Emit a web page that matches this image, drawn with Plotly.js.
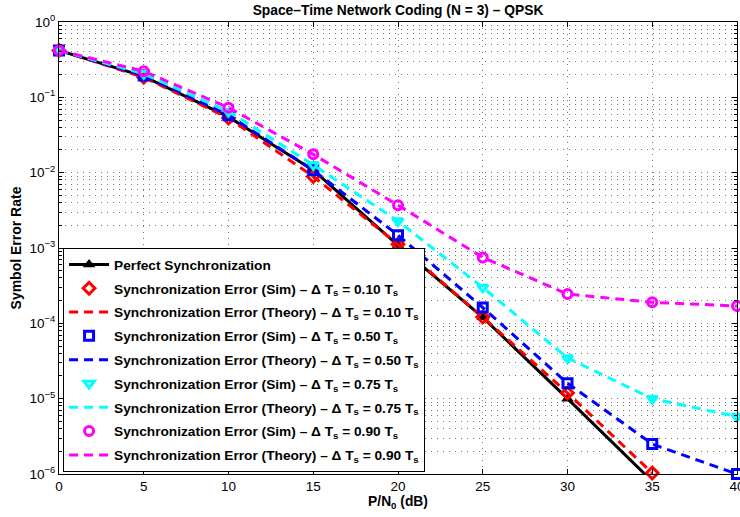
<!DOCTYPE html>
<html>
<head>
<meta charset="utf-8">
<script src="https://cdn.plot.ly/plotly-3.0.1.min.js"></script>
<style>html,body{margin:0;padding:0;background:#fff;}#chart{width:740px;height:517px;}</style>
</head>
<body>
<div id="chart"></div>
<script>
// ---- data ----
const snr = [0, 5, 10, 15, 20, 25, 30, 35, 40];
const perfectSER = [0.42, 0.19, 0.055, 0.0108, 0.00108, 1.2e-4, 1.0e-5, 8.0e-7];
const ser010 = [0.42, 0.185, 0.053, 0.0089, 0.00112, 1.21e-4, 1.19e-5, 1.03e-6];
const ser050 = [0.42, 0.195, 0.058, 0.0108, 0.00148, 1.62e-4, 1.6e-5, 2.5e-6, 1.0e-6];
const ser075 = [0.42, 0.205, 0.065, 0.0127, 0.00228, 3.0e-4, 3.47e-5, 1.0e-5, 5.8e-6];
const ser090 = [0.42, 0.222, 0.073, 0.0175, 0.0037, 7.5e-4, 2.45e-4, 1.9e-4, 1.7e-4];
const deltaLabels = ['0.10', '0.50', '0.75', '0.90'];
const seriesColors = ['#ff0000', '#0000ff', '#00ffff', '#ff00ff'];
const simSymbols = ['diamond-open', 'square-open', 'triangle-down-open', 'circle-open'];
const yTickVals = [1e-6, 1e-5, 1e-4, 1e-3, 1e-2, 1e-1, 1];
const yTickText = ['10<sup>−6</sup>', '10<sup>−5</sup>', '10<sup>−4</sup>', '10<sup>−3</sup>', '10<sup>−2</sup>', '10<sup>−1</sup>', '10<sup>0</sup>'];
const xTickVals = [0, 5, 10, 15, 20, 25, 30, 35, 40];

const seriesValues = [ser010, ser050, ser075, ser090];

const traces = [];
traces.push({
  x: snr.slice(0, perfectSER.length), y: perfectSER,
  mode: 'lines+markers', name: 'Perfect Synchronization', legendgroup: 'g0',
  line: {color: '#000', width: 3},
  marker: {symbol: 'triangle-up', size: 11, color: '#000'},
  cliponaxis: true
});
for (let i = 0; i < seriesValues.length; i++) {
  const v = seriesValues[i];
  const xs = snr.slice(0, v.length);
  traces.push({
    x: xs, y: v, mode: 'markers', legendgroup: 's' + i,
    name: 'Synchronization Error (Sim) – Δ T<sub>s</sub> = ' + deltaLabels[i] + ' T<sub>s</sub>',
    marker: {symbol: simSymbols[i], size: 9, color: seriesColors[i], line: {width: 3, color: seriesColors[i]}},
    cliponaxis: false
  });
  traces.push({
    x: xs, y: v, mode: 'lines', legendgroup: 't' + i,
    name: 'Synchronization Error (Theory) – Δ T<sub>s</sub> = ' + deltaLabels[i] + ' T<sub>s</sub>',
    line: {color: seriesColors[i], width: 3, dash: '9px,6px'}
  });
}

// minor tick positions for log axis (2..9 per decade)
const minorVals = [];
for (let e = -6; e < 0; e++) for (let m = 2; m <= 9; m++) minorVals.push(m * Math.pow(10, e));

const font = {family: 'Liberation Sans, Arial, Helvetica, sans-serif', color: '#000'};
const gridStyle = {showgrid: true, gridcolor: '#777', gridwidth: 1, griddash: '1px,5px'};

const layout = {
  width: 740, height: 517,
  margin: {l: 59, r: 3, t: 22, b: 43},
  paper_bgcolor: '#fff', plot_bgcolor: '#fff',
  font: Object.assign({size: 12}, font),
  showlegend: true,
  title: {
    text: '<b>Space–Time Network Coding (N = 3) – QPSK</b>',
    font: Object.assign({size: 13.8}, font),
    x: 0.5, xref: 'paper', xanchor: 'center', y: 0.981, yanchor: 'middle', yref: 'container'
  },
  xaxis: Object.assign({
    range: [0, 40], tickmode: 'array', tickvals: xTickVals,
    ticks: 'inside', ticklen: 5, tickcolor: '#000', ticklabeloverflow: 'allow',
    showline: true, linecolor: '#000', linewidth: 1, mirror: 'ticks',
    zeroline: false, tickfont: Object.assign({size: 13.5}, font),
    title: {text: '<b>P/N<sub>0</sub> (dB)</b>', font: Object.assign({size: 13.8}, font), standoff: 1}
  }, gridStyle),
  yaxis: Object.assign({
    type: 'log', range: [-6, 0], tickmode: 'array', tickvals: yTickVals, ticktext: yTickText,
    ticks: 'inside', ticklen: 5, tickcolor: '#000', ticklabeloverflow: 'allow',
    showline: true, linecolor: '#000', linewidth: 1, mirror: 'ticks',
    zeroline: false, tickfont: Object.assign({size: 13.5}, font),
    title: {text: '<b>Symbol Error Rate</b>', font: Object.assign({size: 14}, font), standoff: 4},
    minor: {tickmode: 'array', tickvals: minorVals, ticks: 'inside', ticklen: 3, tickcolor: '#000',
            showgrid: true, gridcolor: '#777', gridwidth: 1, griddash: '1px,5px'}
  }, gridStyle),
  legend: {
    x: 0.006, y: 0.5, xanchor: 'left', yanchor: 'top',
    bgcolor: '#fff', bordercolor: '#000', borderwidth: 1,
    font: Object.assign({size: 13.7, weight: 'bold'}, font),
    tracegroupgap: 3, itemwidth: 40
  }
};

Plotly.newPlot('chart', traces, layout, {displayModeBar: false, staticPlot: true});
</script>
</body>
</html>
